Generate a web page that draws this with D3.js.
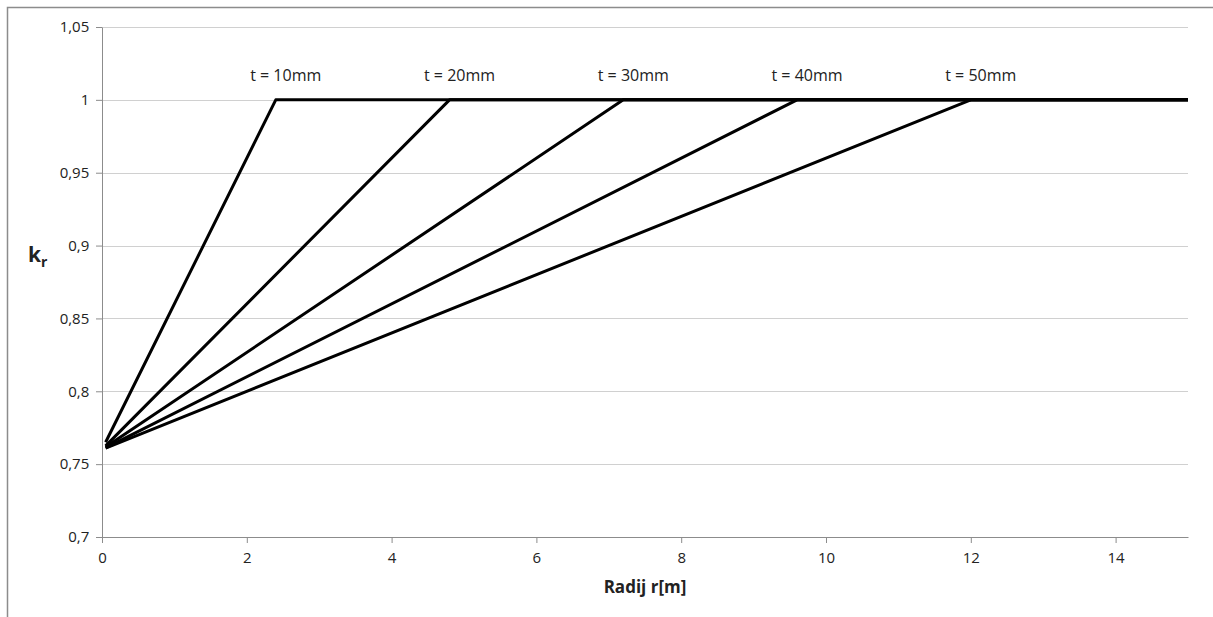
<!DOCTYPE html>
<html>
<head>
<meta charset="utf-8">
<script src="https://cdn.jsdelivr.net/npm/d3@7"></script>
<style>
  body { margin: 0; background: #fff; }
  text { font-family: "Open Sans", Lato, sans-serif; }
</style>
</head>
<body>
<script>
const svgWidth = 1213
const svgHeight = 617

const margin = { top: 27, right: 25, bottom: 80, left: 102 }
const chartWidth = 1188 - margin.left
const chartHeight = 537 - margin.top

// thickness t [mm] and the radius where k_r reaches 1
const thickness = [10, 20, 30, 40, 50]
const startR = [0.05, 0.05, 0.05, 0.05, 0.05]
const startK = [0.765, 0.7625, 0.7617, 0.7612, 0.761]
const breakR = [2.4, 4.8, 7.2, 9.6, 12]
const endR = 15

const xTicks = [0, 2, 4, 6, 8, 10, 12, 14]
const yTicks = [0.7, 0.75, 0.8, 0.85, 0.9, 0.95, 1, 1.05]

const fmt = d => String(d).replace(".", ",")

const series = thickness.map((t, i) => ({
    t: t,
    points: [[startR[i], startK[i]], [breakR[i], 1], [endR, 1]]
}))

const svg = d3.select("body").append("svg")
    .attr("width", svgWidth)
    .attr("height", svgHeight)

// outer frame (top and left edges visible)
svg.append("path")
    .attr("d", `M7.5,${svgHeight} V7.5 H${svgWidth}`)
    .attr("fill", "none")
    .attr("stroke", "#8c8c8c")
    .attr("stroke-width", 1.5)

const chartG = svg.append("g")
    .attr("transform", `translate(${margin.left}, ${margin.top})`)

const x = d3.scaleLinear().domain([0, 15]).range([0, chartWidth])
const y = d3.scaleLinear().domain([0.7, 1.05]).range([chartHeight, 0])

// grid
chartG.append("g")
    .selectAll("line")
    .data(yTicks.slice(1))
    .join("line")
    .attr("x1", 0)
    .attr("x2", chartWidth)
    .attr("y1", d => Math.round(y(d)) + 0.5)
    .attr("y2", d => Math.round(y(d)) + 0.5)
    .attr("stroke", "#d0d0d0")

const yAxis = d3.axisLeft(y).tickValues(yTicks).tickFormat(fmt).tickSize(6).tickSizeOuter(0)
const xAxis = d3.axisBottom(x).tickValues(xTicks).tickFormat(fmt).tickSize(6).tickSizeOuter(0)

const yG = chartG.append("g").call(yAxis)
const xG = chartG.append("g")
    .attr("transform", `translate(0, ${chartHeight})`)
    .call(xAxis)

for (const g of [xG, yG]) {
    g.select(".domain").attr("stroke", "#8c8c8c")
    g.selectAll(".tick line").attr("stroke", "#8c8c8c")
    g.selectAll(".tick text")
        .attr("fill", "#222")
        .style("font-size", "15px")
}
xG.selectAll(".tick text").attr("dy", "1.15em")
yG.selectAll(".tick text").attr("dx", "-0.25em")

const line = d3.line()
    .x(d => x(d[0]))
    .y(d => y(d[1]))

chartG.append("g")
    .selectAll("path")
    .data(series)
    .join("path")
    .attr("d", d => line(d.points))
    .attr("fill", "none")
    .attr("stroke", "#000")
    .attr("stroke-width", 3)
    .attr("stroke-linejoin", "round")

chartG.append("g")
    .selectAll("text")
    .data(series)
    .join("text")
    .attr("x", d => x(d.points[1][0]) + 10)
    .attr("y", d => y(1) - 19)
    .attr("text-anchor", "middle")
    .attr("fill", "#222")
    .style("font-size", "16px")
    .text(d => `t = ${d.t}mm`)

// axis titles
const yTitle = svg.append("text")
    .attr("x", 28)
    .attr("y", 262)
    .attr("font-weight", "bold")
    .style("font-size", "21px")
    .attr("fill", "#222")
yTitle.append("tspan").text("k")
yTitle.append("tspan")
    .attr("dy", 5)
    .style("font-size", "14px")
    .text("r")

svg.append("text")
    .attr("x", margin.left + x(7.5))
    .attr("y", 593)
    .attr("text-anchor", "middle")
    .attr("font-weight", "bold")
    .style("font-size", "17px")
    .attr("fill", "#222")
    .text("Radij r[m]")
</script>
</body>
</html>
